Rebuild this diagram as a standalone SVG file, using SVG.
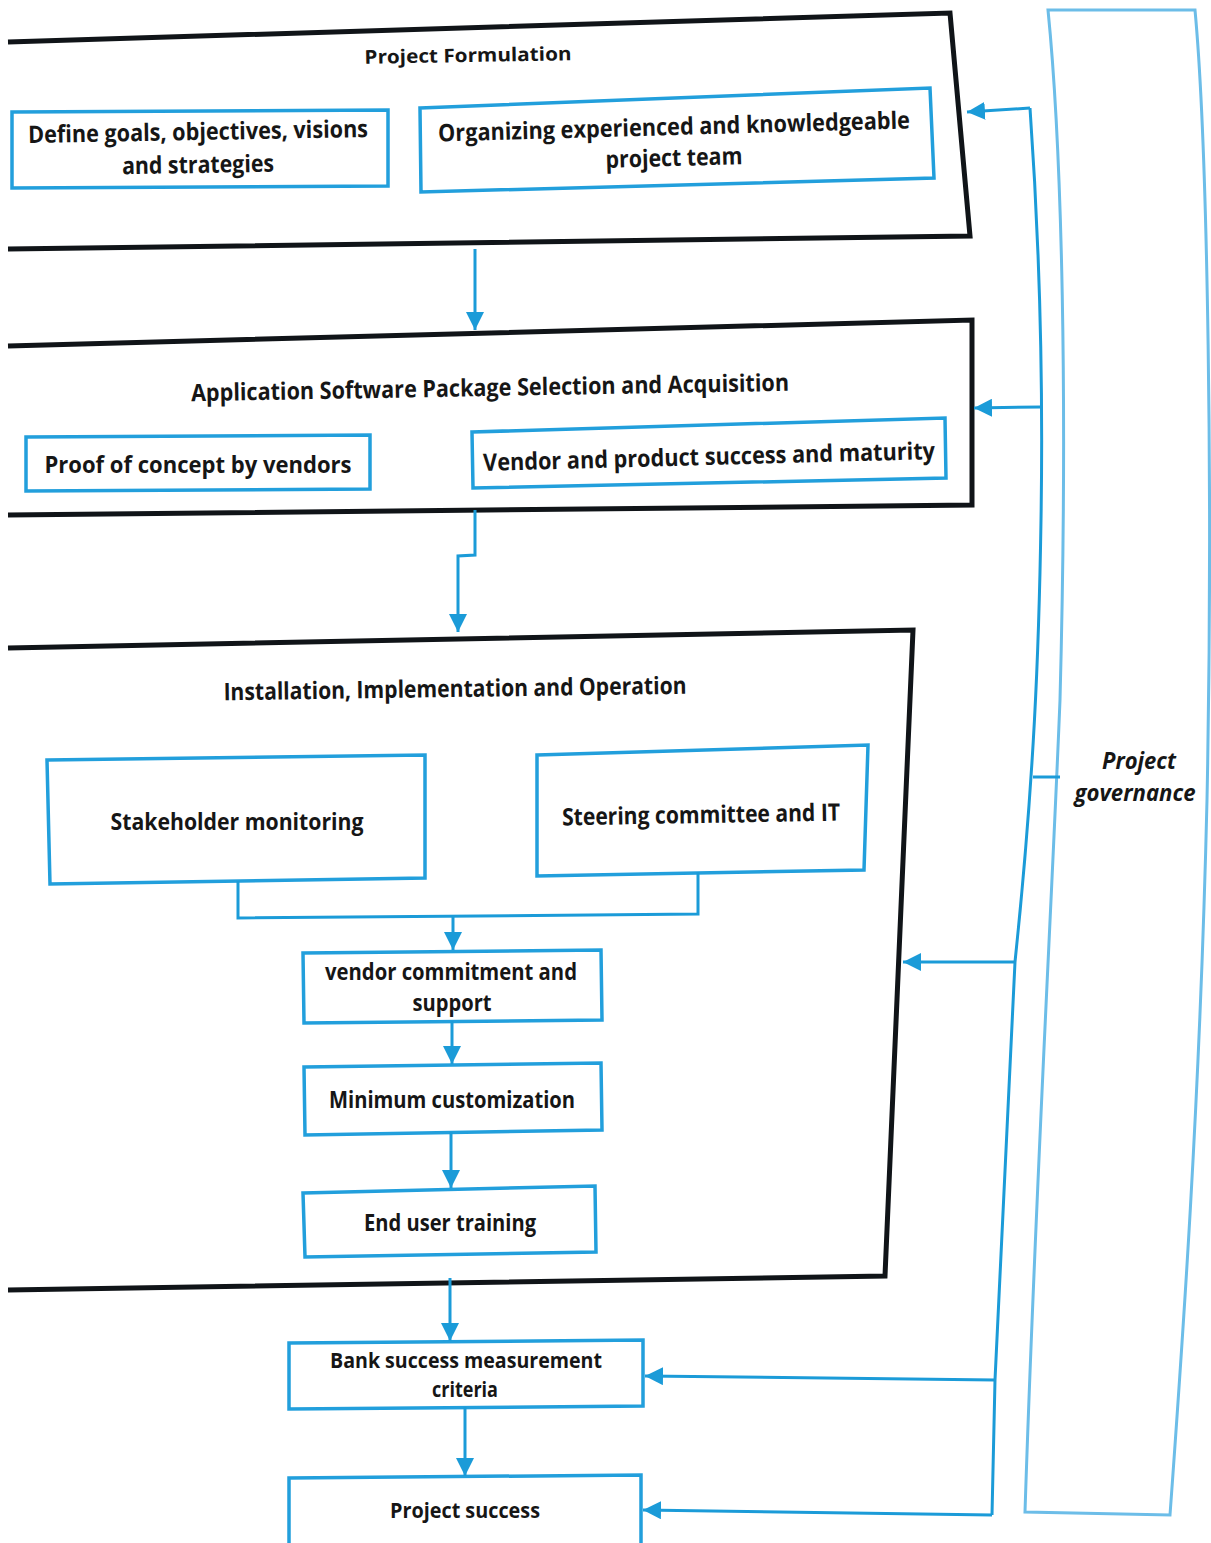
<svg xmlns="http://www.w3.org/2000/svg" width="1211" height="1543" viewBox="0 0 1211 1543">
  <defs>
    <marker id="arrow" markerUnits="userSpaceOnUse" markerWidth="20" markerHeight="18" refX="18" refY="9" orient="auto">
      <path d="M0,0 L18,9 L0,18 Z" fill="#1b9bd8"/>
    </marker>
    <style>
      .stage { fill: none; stroke: #101418; stroke-width: 5; stroke-linejoin: miter; }
      .box { fill: #ffffff; stroke: #229fdc; stroke-width: 3.5; }
      .gov { fill: #ffffff; stroke: #6cbde8; stroke-width: 3; }
      .link { fill: none; stroke: #1b9bd8; stroke-width: 3; }
      .arr { fill: none; stroke: #1b9bd8; stroke-width: 3; marker-end: url(#arrow); }
      text { font-family: "Open Sans", "Liberation Sans", sans-serif; font-weight: 700; fill: #161616; text-anchor: middle; }
      .t22 { font-size: 24px; }
      .t20 { font-size: 22px; }
      .t18 { font-size: 19px; }
    </style>
  </defs>

  <rect width="1211" height="1543" fill="#ffffff"/>

  <!-- Project governance column -->
  <g id="governance">
    <path class="gov" d="M1048,10 L1195,10 C1208,150 1213,500 1207,800 C1200,1100 1182,1350 1170,1515 L1025,1512 C1035,1200 1052,900 1060,700 C1068,400 1062,150 1048,10 Z"/>
    <text class="t22" x="1139" y="769" textLength="74" lengthAdjust="spacingAndGlyphs" font-style="italic">Project</text>
    <text class="t22" x="1135" y="801" textLength="121" lengthAdjust="spacingAndGlyphs" font-style="italic">governance</text>
  </g>

  <!-- Stage 1: Project Formulation -->
  <g id="formulation">
    <path class="stage" d="M8,42 L950,13 L970,236 L8,249"/>
    <text class="t18" x="468" y="62" textLength="207" lengthAdjust="spacingAndGlyphs" transform="rotate(-1 468 56)">Project Formulation</text>
  </g>
  <g id="define-goals">
    <path class="box" d="M12,112 L388,110 L388,186 L12,188 Z"/>
    <text class="t22" x="198" y="140" textLength="340" lengthAdjust="spacingAndGlyphs" transform="rotate(-1 198 132)">Define goals, objectives, visions</text>
    <text class="t22" x="198" y="173" textLength="152" lengthAdjust="spacingAndGlyphs" transform="rotate(-1 198 165)">and strategies</text>
  </g>
  <g id="project-team">
    <path class="box" d="M420,108 L930,88 L934,178 L421,192 Z"/>
    <text class="t22" x="674" y="135" textLength="472" lengthAdjust="spacingAndGlyphs" transform="rotate(-1.6 674 127)">Organizing  experienced and knowledgeable</text>
    <text class="t22" x="674" y="166" textLength="137" lengthAdjust="spacingAndGlyphs" transform="rotate(-1.6 674 158)">project team</text>
  </g>

  <!-- Stage 2: Application Software Package Selection and Acquisition -->
  <g id="selection">
    <path class="stage" d="M8,346 L972,320 L972,505 L8,515"/>
    <text class="t22" x="490" y="396" textLength="598" lengthAdjust="spacingAndGlyphs" transform="rotate(-1 490 387)">Application Software Package Selection and Acquisition</text>
  </g>
  <g id="proof-of-concept">
    <path class="box" d="M26,437 L370,435 L370,489 L26,491 Z"/>
    <text class="t22" x="198" y="473" textLength="307" lengthAdjust="spacingAndGlyphs">Proof of concept by vendors</text>
  </g>
  <g id="vendor-maturity">
    <path class="box" d="M472,432 L945,418 L946,478 L473,488 Z"/>
    <text class="t22" x="709" y="465" textLength="452" lengthAdjust="spacingAndGlyphs" transform="rotate(-1.5 709 457)">Vendor and product success and maturity</text>
  </g>

  <!-- Stage 3: Installation, Implementation and Operation -->
  <g id="installation">
    <path class="stage" d="M8,648 L913,630 L885,1276 L8,1290"/>
    <text class="t22" x="455" y="697" textLength="463" lengthAdjust="spacingAndGlyphs" transform="rotate(-0.8 455 689)">Installation, Implementation and Operation</text>
  </g>
  <g id="stakeholder-monitoring">
    <path class="box" d="M47,760 L425,755 L425,878 L50,884 Z"/>
    <text class="t22" x="237" y="830" textLength="253" lengthAdjust="spacingAndGlyphs">Stakeholder monitoring</text>
  </g>
  <g id="steering-committee">
    <path class="box" d="M537,755 L868,745 L864,870 L537,876 Z"/>
    <text class="t22" x="701" y="823" textLength="278" lengthAdjust="spacingAndGlyphs" transform="rotate(-1 701 815)">Steering committee and IT</text>
  </g>
  <g id="vendor-commitment">
    <path class="box" d="M303,953 L601,950 L602,1020 L304,1023 Z"/>
    <text class="t22" x="451" y="980" textLength="252" lengthAdjust="spacingAndGlyphs">vendor commitment and</text>
    <text class="t22" x="452" y="1011" textLength="79" lengthAdjust="spacingAndGlyphs">support</text>
  </g>
  <g id="minimum-customization">
    <path class="box" d="M304,1067 L601,1063 L602,1130 L305,1135 Z"/>
    <text class="t22" x="452" y="1108" textLength="246" lengthAdjust="spacingAndGlyphs">Minimum customization</text>
  </g>
  <g id="end-user-training">
    <path class="box" d="M303,1193 L595,1186 L596,1252 L305,1257 Z"/>
    <text class="t22" x="450" y="1231" textLength="172" lengthAdjust="spacingAndGlyphs">End user training</text>
  </g>

  <!-- Outcomes -->
  <g id="bank-criteria">
    <path class="box" d="M289,1343 L643,1340 L643,1406 L289,1409 Z"/>
    <text class="t20" x="466" y="1368" textLength="272" lengthAdjust="spacingAndGlyphs">Bank success measurement</text>
    <text class="t20" x="465" y="1397" textLength="66" lengthAdjust="spacingAndGlyphs">criteria</text>
  </g>
  <g id="project-success">
    <path class="box" d="M289,1478 L641,1475 L641,1545 L289,1545 Z"/>
    <text class="t20" x="465" y="1518" textLength="150" lengthAdjust="spacingAndGlyphs">Project success</text>
  </g>

  <!-- Connectors -->
  <g id="connectors">
    <path class="arr" d="M475,249 L475,330"/>
    <path class="arr" d="M475,510 L475,555 L458,556 L458,632"/>
    <path class="link" d="M238,881 L238,918 L698,914 L698,872"/>
    <path class="arr" d="M453,916 L453,950"/>
    <path class="arr" d="M452,1021 L452,1064"/>
    <path class="arr" d="M451,1132 L451,1188"/>
    <path class="arr" d="M450,1278 L450,1341"/>
    <path class="arr" d="M465,1407 L465,1476"/>

    <!-- governance feedback spine and branches -->
    <path class="link" d="M1030,108 C1040,250 1043,400 1041,520 C1039,650 1034,780 1015,962 L995,1380 L992,1515"/>
    <path class="arr" d="M1030,108 L967,112"/>
    <path class="arr" d="M1041,407 L974,408"/>
    <path class="link" d="M1033,777 L1060,777"/>
    <path class="arr" d="M1015,962 L903,962"/>
    <path class="arr" d="M995,1380 L645,1376"/>
    <path class="arr" d="M992,1515 L643,1510"/>
  </g>
</svg>
